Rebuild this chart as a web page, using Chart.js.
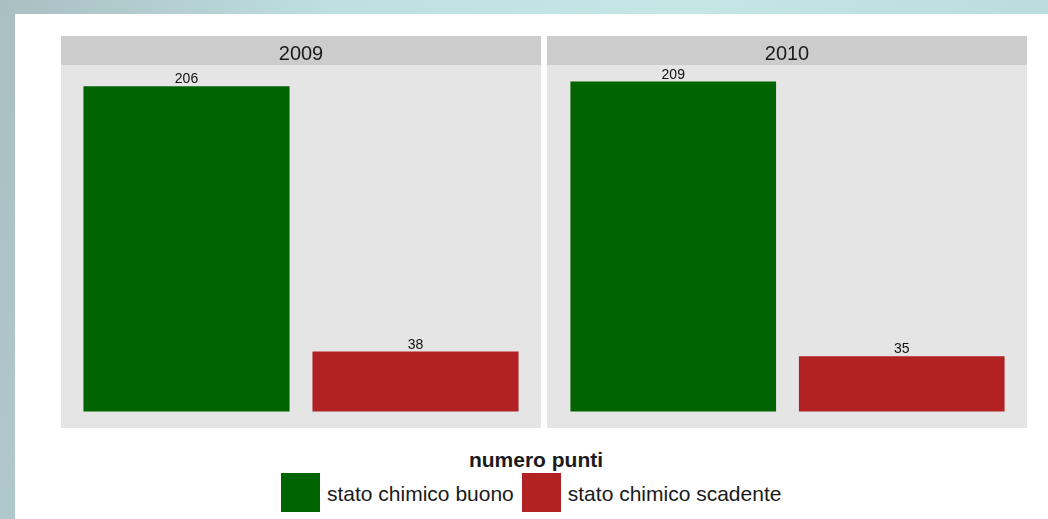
<!DOCTYPE html>
<html>
  <head>
    <meta charset="UTF-8" />
    <title>Stato chimico</title>
    <script src="https://cdn.jsdelivr.net/npm/chart.js"></script>
    <style>
      * {
        margin: 0;
        padding: 0;
        box-sizing: border-box;
      }

      body {
        width: 1048px;
        height: 519px;
        overflow: hidden;
        position: relative;
        font-family: "Liberation Sans", Arial, sans-serif;
        background: linear-gradient(100deg, #a9bfc2 0%, #bfe0e0 30%, #c6e6e6 60%, #b9dada 100%);
      }

      #sheet {
        position: absolute;
        left: 15px;
        top: 14px;
        right: 0;
        bottom: 0;
        background: #fff;
      }

      .panel {
        position: absolute;
        top: 36px;
      }

      #legend-title {
        position: absolute;
        left: 0;
        width: 1072px;
        top: 448px;
        text-align: center;
        font-weight: bold;
        font-size: 21px;
        line-height: 24px;
        color: #1a1a1a;
      }

      #legend {
        position: absolute;
        left: 281px;
        top: 473px;
        display: flex;
        align-items: flex-start;
      }

      .key {
        width: 39px;
        height: 39px;
      }

      .key-label {
        font-size: 21px;
        line-height: 24px;
        margin: 9px 8px 0 7px;
        color: #1a1a1a;
      }
    </style>
  </head>
  <body>
    <div id="sheet"></div>
    <canvas id="chart2009" class="panel" width="480" height="392" style="left: 61px"></canvas>
    <canvas id="chart2010" class="panel" width="480" height="392" style="left: 547px"></canvas>
    <div id="legend-title">numero punti</div>
    <div id="legend"></div>

    <script>
      const years = ["2009", "2010"];
      const categories = ["stato chimico buono", "stato chimico scadente"];
      const values2009 = [206, 38];
      const values2010 = [209, 35];
      const colors = ["#006400", "#B22222"];

      // shared y range, 5% expansion on both ends
      const peak = Math.max(...values2009, ...values2010);
      const yMin = -peak * 0.05;
      const yMax = peak * 1.05;

      const STRIP = 29;

      // grey panel, strip with the year, value labels over the bars
      const facetPlugin = {
        id: "facet",
        beforeDraw(chart, args, opts) {
          const ctx = chart.ctx;
          const w = chart.width;
          const h = chart.height;
          ctx.save();
          ctx.fillStyle = "#E5E5E5";
          ctx.fillRect(0, STRIP, w, h - STRIP);
          ctx.fillStyle = "#CCCCCC";
          ctx.fillRect(0, 0, w, STRIP);
          ctx.fillStyle = "#1a1a1a";
          ctx.font = '20px "Liberation Sans", Arial, sans-serif';
          ctx.textAlign = "center";
          ctx.textBaseline = "alphabetic";
          ctx.fillText(opts.title, w / 2, 24);
          ctx.restore();
        },
        afterDatasetsDraw(chart) {
          const ctx = chart.ctx;
          const meta = chart.getDatasetMeta(0);
          const values = chart.data.datasets[0].data;
          ctx.save();
          ctx.fillStyle = "#111";
          ctx.font = '14px "Liberation Sans", Arial, sans-serif';
          ctx.textAlign = "center";
          ctx.textBaseline = "alphabetic";
          meta.data.forEach((bar, i) => {
            ctx.fillText(values[i], bar.x, bar.y - 3);
          });
          ctx.restore();
        },
      };

      function makePanel(id, year, values, padLeft, padRight) {
        return new Chart(document.getElementById(id), {
          type: "bar",
          data: {
            labels: categories,
            datasets: [
              {
                label: year,
                data: values,
                backgroundColor: colors,
                borderWidth: 0,
                barPercentage: 0.9,
                categoryPercentage: 1,
              },
            ],
          },
          options: {
            responsive: false,
            animation: false,
            events: [],
            layout: { padding: { top: STRIP, left: padLeft, right: padRight, bottom: 0 } },
            scales: {
              x: { display: false },
              y: { display: false, min: yMin, max: yMax },
            },
            plugins: {
              legend: { display: false },
              tooltip: { enabled: false },
              facet: { title: year },
            },
          },
          plugins: [facetPlugin],
        });
      }

      makePanel("chart2009", years[0], values2009, 11, 11);
      makePanel("chart2010", years[1], values2010, 12, 11);

      // legend keys
      const legend = document.getElementById("legend");
      categories.forEach((name, i) => {
        const key = document.createElement("div");
        key.className = "key";
        key.style.background = colors[i];
        const label = document.createElement("div");
        label.className = "key-label";
        label.textContent = name;
        legend.appendChild(key);
        legend.appendChild(label);
      });
    </script>
  </body>
</html>
